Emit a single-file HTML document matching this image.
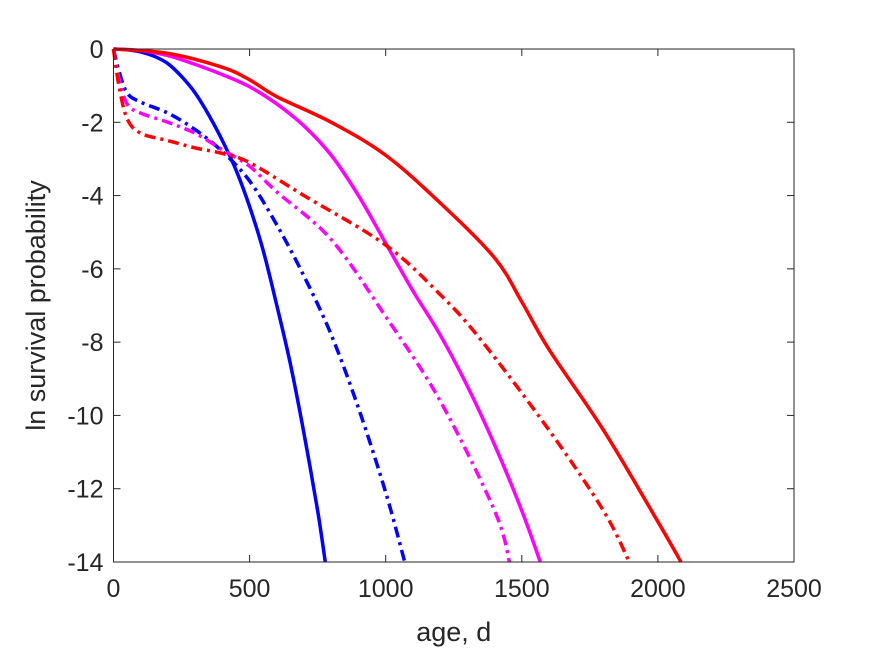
<!DOCTYPE html>
<html><head><meta charset="utf-8"><style>
body{margin:0;background:#fff}
svg text{font-family:"Liberation Sans",Arial,sans-serif;fill:#262626}
</style></head><body>
<svg id="chart" width="875" height="656" xmlns="http://www.w3.org/2000/svg">
<rect width="875" height="656" fill="#fff"/>
<g id="plot"></g>
</svg>
<script>
const xTicks=[0,500,1000,1500,2000,2500];
const yTicks=[0,-2,-4,-6,-8,-10,-12,-14];
const blueSolidAge=[0,50,100,150,200,250,300,350,400,450,500,550,600,650,700,750,778];
const blueSolidVal=[0,-0.02,-0.08,-0.2,-0.4,-0.75,-1.2,-1.8,-2.5,-3.3,-4.3,-5.5,-7,-8.6,-10.5,-12.6,-14];
const magSolidAge=[0,100,200,300,400,500,600,700,800,900,1000,1100,1200,1300,1400,1500,1568];
const magSolidVal=[0,-0.04,-0.18,-0.42,-0.7,-1.03,-1.5,-2.1,-2.9,-4.0,-5.3,-6.6,-7.8,-9.2,-10.8,-12.6,-14];
const redSolidAge=[0,200,400,500,600,800,1000,1200,1400,1500,1600,1800,2000,2085];
const redSolidVal=[0,-0.12,-0.5,-0.84,-1.3,-2.0,-2.9,-4.2,-5.7,-6.9,-8.2,-10.4,-12.9,-14];
const blueDashAge=[0,20,50,100,200,300,400,500,600,700,800,900,1000,1070];
const blueDashVal=[0,-0.6,-1.2,-1.45,-1.75,-2.2,-2.8,-3.6,-4.8,-6.2,-7.8,-9.8,-12.1,-14];
const magDashAge=[0,20,50,100,200,300,400,500,600,800,1000,1200,1400,1455];
const magDashVal=[0,-0.8,-1.5,-1.75,-2.0,-2.3,-2.75,-3.2,-3.9,-5.2,-7.3,-9.6,-12.6,-14];
const redDashAge=[0,20,50,100,200,300,400,500,700,1000,1200,1350,1600,1800,1895];
const redDashVal=[0,-1.0,-1.9,-2.3,-2.5,-2.7,-2.85,-3.1,-4.0,-5.35,-6.7,-7.94,-10.4,-12.6,-14];

const L=113.5,R=794,T=49,B=562;
const xs=v=>L+(v-0)/2500*(R-L);
const ys=v=>T+(0-v)/14*(B-T);
const NS="http://www.w3.org/2000/svg";
const g=document.getElementById('plot');
function mk(tag,attrs){const e=document.createElementNS(NS,tag);for(const k in attrs)e.setAttribute(k,attrs[k]);g.appendChild(e);return e;}

function path(ax,vals){
  const p=ax.map((a,i)=>[xs(a),ys(vals[i])]);
  let d='M'+p[0][0]+','+p[0][1];
  for(let i=0;i<p.length-1;i++){
    const p0=p[Math.max(0,i-1)],p1=p[i],p2=p[i+1],p3=p[Math.min(p.length-1,i+2)];
    const c1=[p1[0]+(p2[0]-p0[0])/6,p1[1]+(p2[1]-p0[1])/6];
    const c2=[p2[0]-(p3[0]-p1[0])/6,p2[1]-(p3[1]-p1[1])/6];
    d+=` C${c1[0]},${c1[1]} ${c2[0]},${c2[1]} ${p2[0]},${p2[1]}`;
  }
  return d;
}
const series=[
 [blueSolidAge,blueSolidVal,'#0000ff',null,'blue-solid-line'],
 [magSolidAge,magSolidVal,'#ff00ff',null,'magenta-solid-line'],
 [redSolidAge,redSolidVal,'#ff0000',null,'red-solid-line'],
 [blueDashAge,blueDashVal,'#0000ff','11,5,3,5','blue-dashdot-line'],
 [magDashAge,magDashVal,'#ff00ff','11,5,3,5','magenta-dashdot-line'],
 [redDashAge,redDashVal,'#ff0000','11,5,3,5','red-dashdot-line']
];
series.forEach(s=>{
  const e=mk('path',{d:path(s[0],s[1]),fill:'none',stroke:s[2],'stroke-width':3.5});
  if(s[3])e.setAttribute('stroke-dasharray',s[3]);
  
  
});
const box=mk('rect',{x:L,y:T,width:R-L,height:B-T,fill:'none',stroke:'#262626','stroke-width':1});


xTicks.forEach(v=>{
  const x=xs(v);
  mk('line',{x1:x,x2:x,y1:B,y2:B-7,stroke:'#262626'});
  mk('line',{x1:x,x2:x,y1:T,y2:T+7,stroke:'#262626'});
  const t=mk('text',{x:x,y:B+35,'text-anchor':'middle','font-size':25});
  t.textContent=v;
  
  
});
yTicks.forEach(v=>{
  const y=ys(v);
  mk('line',{x1:L,x2:L+7,y1:y,y2:y,stroke:'#262626'});
  mk('line',{x1:R,x2:R-7,y1:y,y2:y,stroke:'#262626'});
  const t=mk('text',{x:L-10,y:y+9,'text-anchor':'end','font-size':25});
  t.textContent=v;
  
  
});
const xl=mk('text',{x:(L+R)/2,y:641,'text-anchor':'middle','font-size':27});
xl.textContent='age, d';


const yl=mk('text',{x:0,y:0,'text-anchor':'middle','font-size':27,transform:`translate(45,${(T+B)/2}) rotate(-90)`});
yl.textContent='ln survival probability';


</script>
</body></html>
